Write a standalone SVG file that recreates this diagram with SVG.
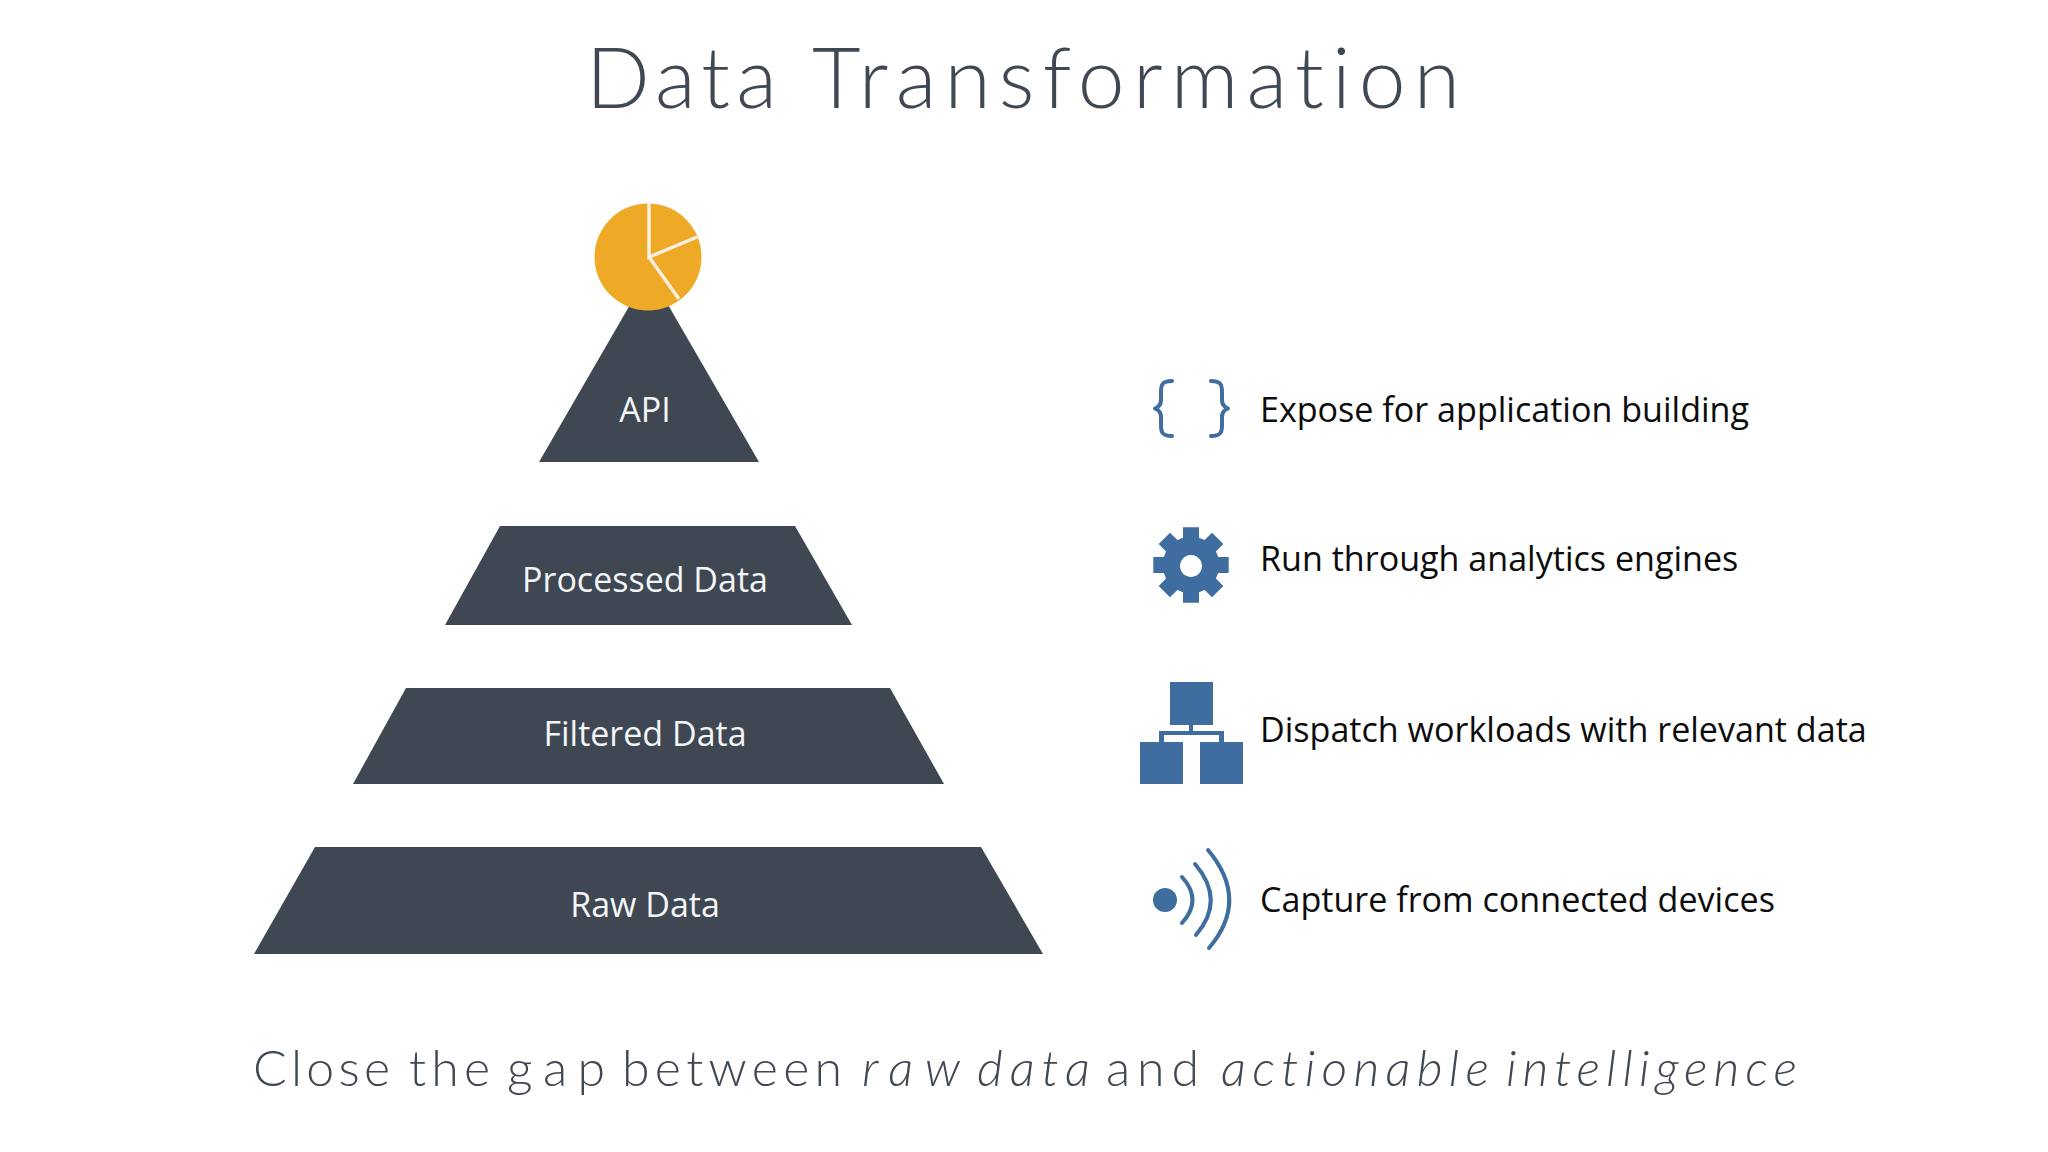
<svg xmlns="http://www.w3.org/2000/svg" width="2048" height="1152" viewBox="0 0 2048 1152">
<style>
.tier{fill:#3e4752}
.lbl{font-family:"Open Sans","Liberation Sans",sans-serif;font-size:34px;fill:#f4f5f6;text-anchor:middle}
.desc{font-family:"Open Sans","Liberation Sans",sans-serif;font-size:34.100px;fill:#0c0c0c}
.ico{fill:#3f6d9f}
.line{fill:none;stroke:#3f6d9f;stroke-linecap:round;stroke-linejoin:round}
.head{font-family:Lato,"Liberation Sans",sans-serif;font-weight:300;fill:#3f4853;font-variant-ligatures:none}
</style>
<rect width="2048" height="1152" fill="#fff"/>
<text id="title" class="head" y="108" font-size="84"><tspan x="586" textLength="191" lengthAdjust="spacing">Data</tspan><tspan x="812" textLength="648" lengthAdjust="spacing">Transformation</tspan></text>
<g id="api">
<polygon class="tier" points="649,272 759,462 539,462"/>
<text class="lbl" x="645" y="422">API</text>
</g>
<g id="pie">
<circle cx="648" cy="257" r="53.5" fill="#eeaa27"/>
<path d="M649,202V257L697,237M649,257L679,299" fill="none" stroke="#f6efe2" stroke-width="3.500"/>
</g>
<g id="processed">
<polygon class="tier" points="500,526 795,526 852,625 445,625"/>
<text class="lbl" x="645" y="592">Processed Data</text>
</g>
<g id="filtered">
<polygon class="tier" points="406,688 890,688 944,784 353,784"/>
<text class="lbl" x="645" y="746">Filtered Data</text>
</g>
<g id="raw">
<polygon class="tier" points="315,847 981,847 1043,954 254,954"/>
<text class="lbl" x="645" y="917">Raw Data</text>
</g>
<g id="expose">
<path class="line" stroke-width="4" d="M1172,381C1162,381 1161,385 1161,392V400C1161,405 1159,407 1155,408.500C1159,410 1161,412 1161,417V425C1161,432 1162,436 1172,436"/>
<path class="line" stroke-width="4" d="M1211,381C1221,381 1222,385 1222,392V400C1222,405 1224,407 1228,408.500C1224,410 1222,412 1222,417V425C1222,432 1221,436 1211,436"/>
<text class="desc" x="1260" y="422">Expose for application building</text>
</g>
<g id="run">
<path class="ico" fill-rule="evenodd" d="M1183,527.300h16v10.500l5.600,2.300 7.400,-7.400 11.300,11.300 -7.400,7.400 2.300,5.600h10.500v16h-10.500l-2.300,5.600 7.400,7.400 -11.300,11.300 -7.400,-7.400 -5.600,2.300v10.500h-16v-10.500l-5.600,-2.300 -7.400,7.400 -11.300,-11.300 7.400,-7.400 -2.300,-5.600h-10.500v-16h10.500l2.300,-5.600 -7.400,-7.400 11.300,-11.300 7.400,7.400 5.600,-2.300z M1191,555a11,11 0 1,0 0.010,0z"/>
<text class="desc" x="1260" y="571">Run through analytics engines</text>
</g>
<g id="dispatch">
<rect class="ico" x="1170" y="682" width="43" height="43"/>
<rect class="ico" x="1189" y="725" width="4" height="6"/>
<path class="ico" d="M1159,742V731H1224V742H1219V735H1164V742z"/>
<rect class="ico" x="1140" y="742" width="43" height="42"/>
<rect class="ico" x="1200" y="742" width="43" height="42"/>
<text class="desc" x="1260" y="742">Dispatch workloads with relevant data</text>
</g>
<g id="capture">
<circle class="ico" cx="1165" cy="900" r="12"/>
<path class="line" stroke-width="4" d="M1182,877Q1203,900 1182,923"/>
<path class="line" stroke-width="4" d="M1195,864Q1226,900 1196,935"/>
<path class="line" stroke-width="4" d="M1208,850Q1250,900 1209,948"/>
<text class="desc" x="1260" y="912">Capture from connected devices</text>
</g>
<text id="tagline" class="head" font-size="50" y="1086"><tspan x="253" textLength="137">Close</tspan><tspan x="409" textLength="81">the</tspan><tspan x="507" textLength="98">gap</tspan><tspan x="622" textLength="220">between</tspan><tspan x="862" font-style="italic" textLength="98">raw</tspan><tspan x="977" font-style="italic" textLength="113">data</tspan><tspan x="1106" textLength="93">and</tspan><tspan x="1221" font-style="italic" textLength="268">actionable</tspan><tspan x="1506" font-style="italic" textLength="291">intelligence</tspan></text>
</svg>
